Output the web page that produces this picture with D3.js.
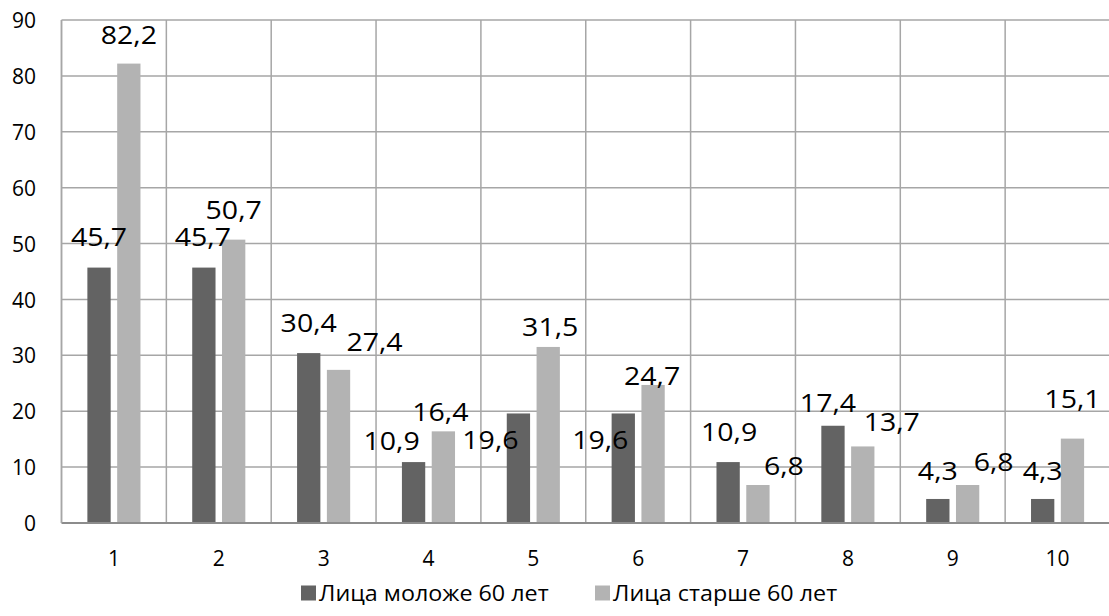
<!DOCTYPE html>
<html><head><meta charset="utf-8">
<script src="https://cdn.jsdelivr.net/npm/d3@7"></script>
<style>
html,body{margin:0;padding:0;background:#fff;}
svg{display:block;}
text{font-family:"Open Sans","Noto Sans",sans-serif;fill:#000;}
</style></head>
<body><svg id="c" width="1109" height="616"></svg>
<script>
const categories = ["1","2","3","4","5","6","7","8","9","10"];
const seriesNames = ["Лица моложе 60 лет","Лица старше 60 лет"];
const younger = [45.7,45.7,30.4,10.9,19.6,19.6,10.9,17.4,4.3,4.3];
const older = [82.2,50.7,27.4,16.4,31.5,24.7,6.8,13.7,6.8,15.1];
const yTicks = [0,10,20,30,40,50,60,70,80,90];
const colors = ["#636363","#b3b3b3"];
// manual label nudges (pixels, label centre relative to bar top centre), as placed in the source chart
const nudgeYounger = [[0,-31],[-1,-31],[0,-30],[-22,-21],[-28,27],[-23,27],[1,-30],[-5,-23],[0,-28],[0,-28]];
const nudgeOlder = [[0,-29],[0,-30],[36,-28],[-3,-19],[2,-20],[-1,-9],[26,-19],[29,-24],[26,-23],[0,-40]];

const svg = d3.select("#c");
const L = 61.5, R = 1110, T = 20, B = 523;
const x = d3.scaleBand().domain(categories).range([L, R]).padding(0);
const y = d3.scaleLinear().domain([0, 90]).range([B, T]);
const fmt = v => String(v).replace(".", ",");

// gridlines
const grid = svg.append("g").attr("stroke", "#a6a6a6").attr("stroke-width", 1.5);
grid.selectAll("line.h").data(yTicks.filter(d => d > 0)).join("line")
  .attr("x1", L).attr("x2", R).attr("y1", d => y(d)).attr("y2", d => y(d));
grid.selectAll("line.v").data(categories).join("line")
  .attr("x1", d => x(d)).attr("x2", d => x(d)).attr("y1", T).attr("y2", B);

// y axis labels
const yAxis = d3.axisLeft(y).tickValues(yTicks).tickSize(0).tickPadding(0);
const yg = svg.append("g").attr("transform", `translate(${36},0)`).call(yAxis);
yg.select(".domain").remove();
yg.selectAll("text").attr("font-size", 21).attr("x", 0).attr("dy", "0.36em")
  .attr("font-family", '"Open Sans",sans-serif').attr("fill", "#000");

// bars
const barW = 23.3, gap = 6.5;
const offs = [-barW - gap/2, gap/2];
const series = [younger, older];
const nudges = [nudgeYounger, nudgeOlder];
series.forEach((vals, i) => {
  svg.append("g").selectAll("rect").data(categories).join("rect")
    .attr("x", (d, j) => x(d) + x.bandwidth()/2 + offs[i])
    .attr("width", barW)
    .attr("y", (d, j) => y(vals[j]))
    .attr("height", (d, j) => B - y(vals[j]))
    .attr("fill", colors[i]);
});

// axis lines
svg.append("line").attr("x1", L).attr("x2", R).attr("y1", B).attr("y2", B)
  .attr("stroke", "#8c8c8c").attr("stroke-width", 2);
svg.append("line").attr("x1", L).attr("x2", L).attr("y1", T).attr("y2", B)
  .attr("stroke", "#a6a6a6").attr("stroke-width", 1.5);

// data labels
const SX = 1.14;
series.forEach((vals, i) => {
  svg.append("g").selectAll("text").data(categories).join("text")
    .attr("text-anchor", "middle").attr("font-size", 25).attr("dy", "0.36em")
    .attr("transform", (d, j) => {
      const cx = x(d) + x.bandwidth()/2 + offs[i] + barW/2 + nudges[i][j][0];
      const cy = y(vals[j]) + nudges[i][j][1];
      return `translate(${cx},${cy}) scale(${SX},1)`;
    })
    .text((d, j) => fmt(vals[j]));
});

// x axis labels
const xAxis = d3.axisBottom(x).tickSize(0).tickPadding(0);
const xg = svg.append("g").attr("transform", `translate(0,${558})`).call(xAxis);
xg.select(".domain").remove();
xg.selectAll("text").attr("font-size", 21).attr("y", 0).attr("dy", "0.36em")
  .attr("font-family", '"Open Sans",sans-serif').attr("fill", "#000");

// legend
const leg = svg.append("g").attr("transform", "translate(0,593)");
const legX = [301, 595];
seriesNames.forEach((n, i) => {
  leg.append("rect").attr("x", legX[i]).attr("y", -7.5).attr("width", 15).attr("height", 15).attr("fill", colors[i]);
  leg.append("text").attr("font-size", 22).attr("dy", "0.36em")
    .attr("transform", `translate(${legX[i] + 18},0) scale(1.06,1)`).text(n);
});
</script></body></html>
